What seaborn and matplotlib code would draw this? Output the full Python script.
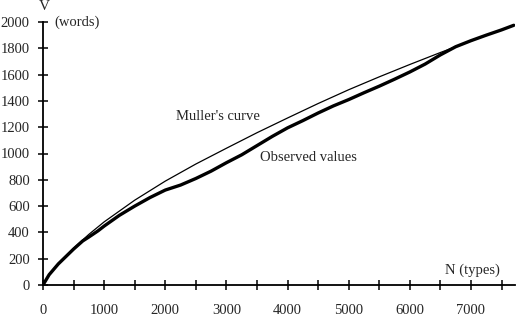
import numpy as np
import pandas as pd
import matplotlib
matplotlib.use("Agg")
import matplotlib.pyplot as plt
import seaborn as sns

# Muller's curve (smooth fit)
muller_n = [0, 100, 250, 500, 750, 1000, 1500, 2000, 2500, 3000, 3500, 4000,
            4500, 5000, 5500, 6000, 6500, 7000, 7500, 7700]
muller_v = [0, 80, 165, 280, 385, 480, 645, 790, 920, 1040, 1158, 1270,
            1380, 1485, 1583, 1677, 1768, 1856, 1940, 1975]

# observed values
obs_n = [0, 100, 250, 500, 650, 750, 900, 1000, 1250, 1500, 1750, 2000, 2250,
         2500, 2750, 3000, 3250, 3500, 3750, 4000, 4250, 4500, 4750, 5000,
         5250, 5500, 5750, 6000, 6250, 6500, 6750, 7000, 7250, 7500, 7700]
obs_v = [0, 78, 160, 273, 335, 365, 412, 448, 530, 600, 665, 722, 760,
         810, 866, 930, 990, 1060, 1130, 1195, 1250, 1308, 1362, 1410,
         1462, 1512, 1565, 1620, 1680, 1750, 1812, 1858, 1900, 1940, 1975]

sns.set_style("ticks")
plt.rcParams["font.family"] = ["Liberation Serif", "DejaVu Serif"]
plt.rcParams["font.size"] = 10.5

fig = plt.figure(figsize=(5.27, 3.35), dpi=100)
ax = fig.add_axes([43 / 527, 50 / 335, (515 - 43) / 527, (285 - 22) / 335])

sns.lineplot(x=muller_n, y=muller_v, ax=ax, color="black", linewidth=0.9)
sns.lineplot(x=obs_n, y=obs_v, ax=ax, color="black", linewidth=2.4)

ax.set_xlim(0, 7720)
ax.set_ylim(0, 2000)
ax.set_xticks(np.arange(0, 7001, 1000))
ax.set_xticks(np.arange(500, 7700, 1000), minor=True)
ax.set_yticks(np.arange(0, 2001, 200))
ax.tick_params(axis="both", which="both", direction="inout", length=7,
               width=1.1, color="black", labelsize=10.5)
ax.tick_params(axis="x", pad=10)
ax.tick_params(axis="y", pad=6)
sns.despine(ax=ax)
for s in ["left", "bottom"]:
    ax.spines[s].set_linewidth(1.3)
    ax.spines[s].set_color("black")

ax.text(2173, 1278, "Muller's curve", fontsize=10.5, va="center")
ax.text(3546, 973, "Observed values", fontsize=10.5, va="center")
ax.text(7480, 114, "N (types)", fontsize=10.5, ha="right", va="center")
ax.text(190, 2000, "(words)", fontsize=10.5, va="center")
ax.text(20, 2115, "V", fontsize=11, ha="center", va="center", clip_on=False)

fig.savefig("out.png", dpi=100)
